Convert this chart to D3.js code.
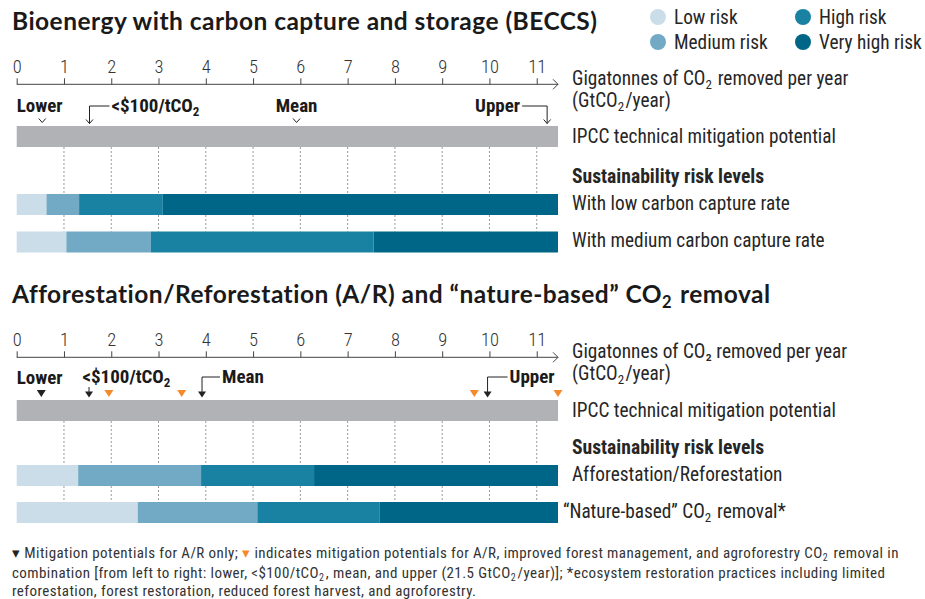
<!DOCTYPE html>
<html><head><meta charset="utf-8">
<script src="https://cdn.jsdelivr.net/npm/d3@7"></script>
<style>body{margin:0;background:#fff}svg{display:block}</style>
</head><body>
<svg id="c" width="925" height="599"></svg>
<script>
// ---------- data ----------
const tickValues = [0,1,2,3,4,5,6,7,8,9,10,11];
const riskLevels = ["Low risk","Medium risk","High risk","Very high risk"];
const beccsRows = ["With low carbon capture rate","With medium carbon capture rate"];
const beccsLowCapture = [0.63, 1.32, 3.09, 11.45];     // cumulative right edges per risk level
const beccsMediumCapture = [1.05, 2.84, 7.55, 11.45];
const beccsMarkerLabels = ["Lower","<$100/tCO2","Mean","Upper"];
const beccsMarkerValues = [0.54, 1.54, 5.92, 11.22];
const beccsIpcc = 11.45;
const arRows = ["Afforestation/Reforestation","\u201cNature-based\u201d CO2 removal*"];
const arAfforestation = [1.30, 3.90, 6.29, 11.45];
const arNatureBased = [2.56, 5.09, 7.68, 11.45];
const arMarkerLabels = ["Lower","<$100/tCO2","Mean","Upper"];
const arMarkerValues = [0.52, 1.53, 3.92, 9.96];          // A/R only (black)
const arCombinedValues = [1.95, 3.49, 9.68, 21.5];        // A/R + IFM + agroforestry (orange)
const arIpcc = 11.45;

// ---------- styles ----------
const riskColors = ["#cadde8","#72aac5","#1981a1","#006687"];
const FONT = "'Liberation Sans Narrow','Arial Narrow','Roboto Condensed',sans-serif";
const TITLEFONT = "Lato,'Liberation Sans',sans-serif";
const TXT = "#262626";
const GRAY = "#b1b2b6";
const ORANGE = "#f58a2c";
const FS = 19.3;

const svg = d3.select("#c").style("font-family", FONT);
const x = d3.scaleLinear().domain([0, 11.45]).range([16.7, 558]).clamp(true);

function rich(sel, parts, baseFs, subSize) {
  const sh = Math.round(baseFs * 0.22);
  parts.forEach(p => {
    if (p.sub) {
      sel.append("tspan").attr("dy", sh).attr("font-size", subSize).text(p.t);
      sel.append("tspan").attr("dy", -sh).attr("font-size", subSize).text("\u200a");
    } else sel.append("tspan").text(p.t);
  });
  return sel;
}
function splitCO2(s) {
  const out = []; const re = /CO2/g; let last = 0, m;
  while ((m = re.exec(s))) { out.push({t: s.slice(last, m.index) + "CO"}); out.push({t:"2", sub:true}); last = m.index + 3; }
  out.push({t: s.slice(last)}); return out.filter(p => p.t.length);
}

// ---------- legend ----------
const lg = svg.append("g");
riskLevels.forEach((r, i) => {
  const cx = i < 2 ? 658 : 803, cy = i % 2 === 0 ? 17 : 42;
  lg.append("circle").attr("cx", cx).attr("cy", cy).attr("r", 8).attr("fill", riskColors[i]);
  lg.append("text").attr("x", cx + 16).attr("y", cy + 7).attr("font-size", FS).attr("fill", TXT).text(r);
});

// ---------- panels ----------
function panel(cfg) {
  const g = svg.append("g");
  rich(g.append("text").attr("x", 12).attr("y", cfg.titleY).attr("font-size", 24.5).attr("font-weight", "bold")
        .attr("letter-spacing", "0.47px").attr("font-family", TITLEFONT).attr("fill", "#1a1a1a"), cfg.title, 24.5, 16.5);
  const axis = d3.axisTop(x).tickValues(tickValues).tickSize(6).tickPadding(5).tickFormat(d3.format("d"));
  const ag = g.append("g").attr("transform", `translate(0,${cfg.axisY})`).call(axis);
  ag.select(".domain").remove();
  ag.selectAll(".tick line").attr("stroke", "#444");
  ag.selectAll(".tick text").attr("font-size", 18.5).attr("fill", "#333").attr("font-family", FONT).attr("font-weight", 300);
  g.append("line").attr("x1", x(0)).attr("x2", x.range()[1]).attr("y1", cfg.axisY).attr("y2", cfg.axisY).attr("stroke", "#444").attr("stroke-width", 1);
  g.append("path").attr("d", `M${x.range()[1]-5},${cfg.axisY-5} L${x.range()[1]},${cfg.axisY} L${x.range()[1]-5},${cfg.axisY+5}`).attr("fill", "none").attr("stroke", "#444");
  rich(g.append("text").attr("x", 572).attr("y", cfg.axisY + 1).attr("font-size", FS).attr("fill", TXT), cfg.axisTitle1, FS, 13);
  rich(g.append("text").attr("x", 572).attr("y", cfg.axisY + 22.5).attr("font-size", FS).attr("fill", TXT), splitCO2("(GtCO2/year)"), FS, 13);

  g.append("rect").attr("x", x(0)).attr("y", cfg.grayY).attr("width", x(cfg.ipcc) - x(0)).attr("height", 21).attr("fill", GRAY);
  g.append("text").attr("x", 572).attr("y", cfg.grayY + 17).attr("font-size", FS).attr("fill", TXT).text("IPCC technical mitigation potential");
  const gaps = [[cfg.grayY + 21, cfg.barY[0]], [cfg.barY[0] + 21, cfg.barY[1]]];
  gaps.forEach(([a, b]) => {
    g.selectAll(null).data(tickValues.filter(t => t > 0)).enter().append("line")
      .attr("x1", d => x(d)).attr("x2", d => x(d)).attr("y1", a).attr("y2", b)
      .attr("stroke", "#9a9a9a").attr("stroke-width", 1).attr("stroke-dasharray", "2,2");
  });
  g.append("text").attr("x", 572).attr("y", cfg.barY[0] - 11).attr("font-size", 19.6).attr("font-weight", "bold").attr("fill", TXT).text("Sustainability risk levels");
  cfg.rows.forEach((edges, ri) => {
    const segs = edges.map((e, i) => ({x0: i ? edges[i-1] : 0, x1: e, i}));
    g.selectAll(null).data(segs).enter().append("rect")
      .attr("x", d => x(d.x0)).attr("width", d => x(d.x1) - x(d.x0))
      .attr("y", cfg.barY[ri]).attr("height", 21).attr("fill", d => riskColors[d.i]);
    rich(g.append("text").attr("x", cfg.rowLabelX[ri]).attr("y", cfg.barY[ri] + 15.5).attr("font-size", FS).attr("fill", TXT), splitCO2(cfg.rowLabels[ri]), FS, 13);
  });
  return g;
}

function labelText(g, s, xx, yy, anchor) {
  return rich(g.append("text").attr("x", xx).attr("y", yy).attr("font-size", 19).attr("font-weight", "bold")
    .attr("fill", "#1a1a1a").attr("text-anchor", anchor || "start"), splitCO2(s), 19, 13);
}
function path(g, d) { return g.append("path").attr("d", d).attr("stroke", "#222").attr("stroke-width", 1).attr("fill", "none"); }

// ===== Panel 1: BECCS =====
const p1 = panel({
  title: [{t: "Bioenergy with carbon capture and storage (BECCS)"}],
  titleY: 30, axisY: 84.3, grayY: 126, barY: [194, 231.5], ipcc: beccsIpcc,
  axisTitle1: splitCO2("Gigatonnes of CO2 removed per year"),
  rows: [beccsLowCapture, beccsMediumCapture], rowLabels: beccsRows, rowLabelX: [572, 572]
});
{
  const ly = 111.5, g = p1;
  labelText(g, beccsMarkerLabels[0], x(0), ly);
  let m = x(beccsMarkerValues[0]);
  path(g, `M${m-3.5},118.5 L${m},122.5 L${m+3.5},118.5`);
  m = x(beccsMarkerValues[1]);
  path(g, `M${m+20},106 L${m},106 L${m},123.5`);
  path(g, `M${m-3.5},119.5 L${m},123.5 L${m+3.5},119.5`);
  labelText(g, beccsMarkerLabels[1], m + 22, ly);
  m = x(beccsMarkerValues[2]);
  labelText(g, beccsMarkerLabels[2], m, ly, "middle");
  path(g, `M${m-3.5},118.5 L${m},122.5 L${m+3.5},118.5`);
  m = x(beccsMarkerValues[3]);
  labelText(g, beccsMarkerLabels[3], m - 27, ly, "end");
  path(g, `M${m-25},106 L${m},106 L${m},123.5`);
  path(g, `M${m-3.5},119.5 L${m},123.5 L${m+3.5},119.5`);
}

// ===== Panel 2: A/R =====
const p2 = panel({
  title: [{t: "Afforestation/Reforestation (A/R) and \u201cnature-based\u201d CO"}, {t: "2", sub: true}, {t: " removal"}],
  titleY: 303, axisY: 357.3, grayY: 400, barY: [465, 502], ipcc: arIpcc,
  axisTitle1: [{t: "Gigatonnes of CO\u2082 removed per year"}],
  rows: [arAfforestation, arNatureBased], rowLabels: arRows, rowLabelX: [572, 563]
});
{
  const ly = 383, g = p2;
  const tri = (m, col) => g.append("path").attr("d", `M${m-4.5},390 L${m+4.5},390 L${m},397 Z`).attr("fill", col);
  const head = m => g.append("path").attr("d", `M${m-4},391.5 L${m+4},391.5 L${m},397.5 Z`).attr("fill", "#222");
  arCombinedValues.forEach(v => tri(x(v), ORANGE));
  labelText(g, arMarkerLabels[0], x(0), ly + 1);
  tri(x(arMarkerValues[0]), "#222");
  let m = x(arMarkerValues[1]);
  labelText(g, arMarkerLabels[1], m - 6.5, ly);
  path(g, `M${m},387 L${m},393`); head(m);
  m = x(arMarkerValues[2]);
  labelText(g, arMarkerLabels[2], m + 20, ly);
  path(g, `M${m+18},377 L${m},377 L${m},393`); head(m);
  m = x(arMarkerValues[3]);
  labelText(g, arMarkerLabels[3], m + 22, ly);
  path(g, `M${m+20},377 L${m},377 L${m},393`); head(m);
}

// ---------- footnote ----------
const fn = svg.append("g").attr("font-size", 15).attr("fill", "#333").attr("letter-spacing", "0.42px");
const l1 = fn.append("text").attr("x", 12).attr("y", 558);
l1.append("tspan").attr("fill", "#222").text("\u25BE ");
l1.append("tspan").text("Mitigation potentials for A/R only; ");
l1.append("tspan").attr("fill", ORANGE).text("\u25BE ");
rich(l1, splitCO2("indicates mitigation potentials for A/R, improved forest management, and agroforestry CO2 removal in"), 15, 10);
rich(fn.append("text").attr("x", 12).attr("y", 578), splitCO2("combination [from left to right: lower, <$100/tCO2, mean, and upper (21.5 GtCO2/year)]; *ecosystem restoration practices including limited"), 15, 10);
fn.append("text").attr("x", 12).attr("y", 596).text("reforestation, forest restoration, reduced forest harvest, and agroforestry.");
</script>
</body></html>
